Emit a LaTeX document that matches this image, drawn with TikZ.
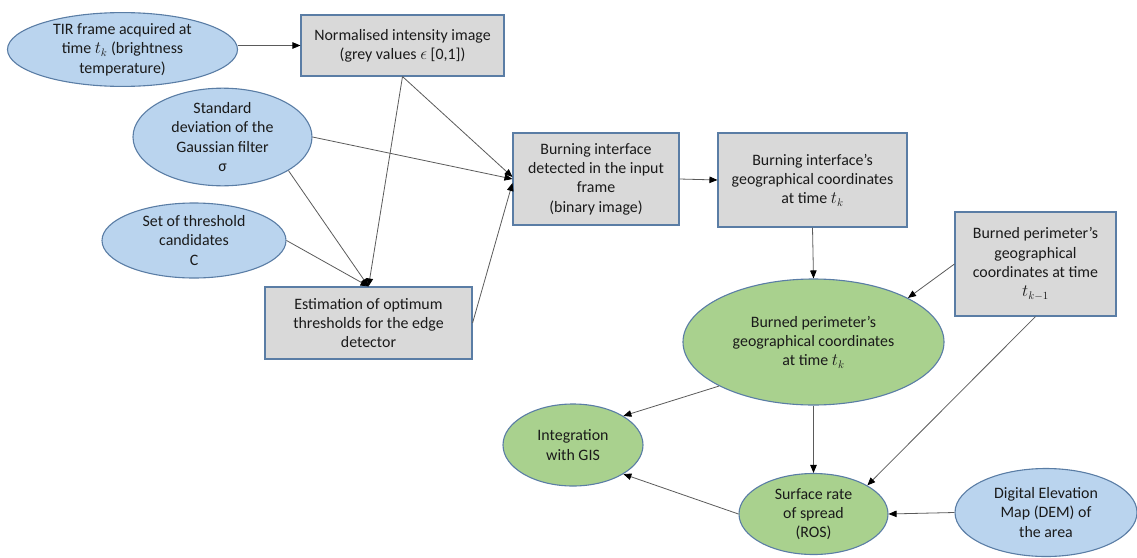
\documentclass[tikz,border=0pt]{standalone}
\usepackage{fontspec}
\setmainfont{Carlito}
\usetikzlibrary{arrows.meta,shapes.geometric}
\definecolor{bluefill}{HTML}{BAD4EE}
\definecolor{greenfill}{HTML}{A9D18E}
\definecolor{greyfill}{HTML}{D9D9D9}
\definecolor{edgecol}{HTML}{5A7DA5}
\definecolor{linecol}{HTML}{5A5A5A}
\definecolor{txt}{HTML}{1A1A1A}
\begin{document}
\begin{tikzpicture}[x=1pt,y=-1pt,
  base/.style={draw=edgecol, line width=1.1pt, inner sep=0pt, align=center, text=txt,
    font=\fontsize{15.9}{19.3}\selectfont},
  blueell/.style={base, ellipse, fill=bluefill},
  greenell/.style={base, ellipse, fill=greenfill},
  greybox/.style={base, rectangle, fill=greyfill},
  conn/.style={draw=linecol, line width=0.8pt,
    -{Triangle[length=8pt,width=6.5pt,color=black]}}]
\useasboundingbox (0,0) rectangle (1137,557);

% nodes
\node[blueell, minimum width=230pt, minimum height=66pt] (tir) at (122.5,49.5)
  {TIR frame acquired at\\ time \(t_k\) (brightness\\ temperature)};
\node[greybox, minimum width=203pt, minimum height=61pt] (norm) at (402.5,45.5)
  {Normalised intensity image\\ (grey values \(\epsilon\) [0,1])};
\node[blueell, minimum width=179pt, minimum height=90pt] (std) at (222.5,137)
  {Standard\\ deviation of the\\ Gaussian filter\\ σ};
\node[blueell, minimum width=184pt, minimum height=75pt] (set) at (194,240.5)
  {Set of threshold\\ candidates\\ C};
\node[greybox, minimum width=207pt, minimum height=72pt] (est) at (368.5,323)
  {Estimation of optimum\\ thresholds for the edge\\ detector};
\node[greybox, minimum width=166pt, minimum height=92pt] (burn) at (596,179)
  {Burning interface\\ detected in the input\\ frame\\ (binary image)};
\node[greybox, minimum width=189pt, minimum height=94pt] (geo) at (812.5,180)
  {Burning interface’s\\ geographical coordinates\\ at time \(t_k\)};
\node[greybox, minimum width=161pt, minimum height=104pt] (prev) at (1035.5,264)
  {Burned perimeter’s\\ geographical\\ coordinates at time\\ \(t_{k-1}\)};
\node[greenell, minimum width=261pt, minimum height=126pt] (green) at (813.5,342)
  {Burned perimeter’s\\ geographical coordinates\\ at time \(t_k\)};
\node[greenell, minimum width=140pt, minimum height=82pt] (gis) at (573,445)
  {Integration\\ with GIS};
\node[greenell, minimum width=149pt, minimum height=81pt] (ros) at (813.5,514)
  {Surface rate\\ of spread\\ (ROS)};
\node[blueell, minimum width=182pt, minimum height=88pt] (dem) at (1046,512.5)
  {Digital Elevation\\ Map (DEM) of\\ the area};

% connectors
\draw[conn] (tir.east |- norm.west) -- (norm.west);
\draw[conn] (norm.south) -- ([yshift=2pt]burn.west);
\draw[conn] (norm.south) -- (est.north);
\draw[conn] (std.east) -- (burn.west);
\draw[conn] (std.-27) -- (est.north);
\draw[conn] (set.east) -- (est.north);
\draw[conn] (est.east) -- ([yshift=-4pt]burn.west);
\draw[conn] (burn.east) -- (geo.west);
\draw[conn] (geo.south) -- (green.north);
\draw[conn] (prev.west) -- (green.25);
\draw[conn] (prev.south) -- (ros.28);
\draw[conn] (green.south) -- (ros.north);
\draw[conn] (green.205) -- (gis.30);
\draw[conn] (ros.west) -- (gis.-30);
\draw[conn] (dem.west) -- (ros.east);
\end{tikzpicture}
\end{document}
